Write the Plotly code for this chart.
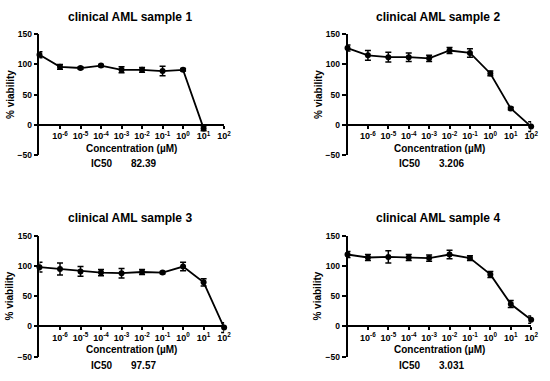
import plotly.graph_objects as go

W, H = 550, 381

conc = [1e-7, 1e-6, 1e-5, 1e-4, 1e-3, 1e-2, 1e-1, 1e0, 1e1, 1e2]

titles = ["clinical AML sample 1", "clinical AML sample 2",
          "clinical AML sample 3", "clinical AML sample 4"]
ic50_values = ["82.39", "3.206", "97.57", "3.031"]

viab_1 = [116, 96, 94, 98, 91, 91, 89, 91, -6]
err_1 = [5, 4, 2, 2, 5, 4, 8, 2, 4]
viab_2 = [127, 115, 112, 112, 110, 123, 119, 85, 27, -3]
err_2 = [5, 8, 8, 7, 5, 5, 7, 4, 2, 8]
viab_3 = [98, 95, 91, 89, 88, 90, 89, 99, 73, -2]
err_3 = [8, 10, 8, 5, 8, 4, 2, 7, 6, 8]
viab_4 = [119, 114, 115, 114, 113, 119, 113, 86, 37, 11]
err_4 = [5, 5, 10, 5, 5, 7, 4, 5, 6, 6]

series = [(viab_1, err_1), (viab_2, err_2), (viab_3, err_3), (viab_4, err_4)]

y_ticks = [-50, 0, 50, 100, 150]
x_tickvals = [1e-6, 1e-5, 1e-4, 1e-3, 1e-2, 1e-1, 1e0, 1e1, 1e2]
x_ticktext = ["10<sup>-6</sup>", "10<sup>-5</sup>", "10<sup>-4</sup>", "10<sup>-3</sup>",
              "10<sup>-2</sup>", "10<sup>-1</sup>", "10<sup>0</sup>", "10<sup>1</sup>",
              "10<sup>2</sup>"]

# panel geometry in pixels: (x_left, x_right, y_top, y_bottom)
panels = [(40, 227, 30, 154), (352, 538, 30, 154),
          (40, 227, 237, 361), (352, 538, 237, 361)]

FONT = "Liberation Sans, Arial, sans-serif"

fig = go.Figure()
layout = dict(width=W, height=H, margin=dict(l=0, r=0, t=0, b=0),
              paper_bgcolor="white", plot_bgcolor="white", showlegend=False)

annotations = []

def ann(text, px, py, size):
    annotations.append(dict(text="<b>%s</b>" % text, x=px / W, y=1 - py / H,
                            xref="paper", yref="paper", showarrow=False,
                            xanchor="center", yanchor="middle",
                            font=dict(family=FONT, size=size, color="black")))

for i, ((vals, errs), (xl, xr, yt, yb)) in enumerate(zip(series, panels)):
    n = i + 1
    xa = "xaxis" if n == 1 else "xaxis%d" % n
    ya = "yaxis" if n == 1 else "yaxis%d" % n
    xs = "x" if n == 1 else "x%d" % n
    ys = "y" if n == 1 else "y%d" % n
    ybot = 1 - yb / H
    ytop = 1 - yt / H
    zero_pos = ybot + (0 - (-50)) / 200 * (ytop - ybot)
    layout[xa] = dict(domain=[xl / W, xr / W], type="log", range=[-7, 2],
                      anchor="free", position=zero_pos,
                      tickvals=x_tickvals, ticktext=x_ticktext,
                      ticks="outside", ticklen=3, tickwidth=1.5, tickcolor="black",
                      showline=True, linecolor="black", linewidth=1.8,
                      showgrid=False, zeroline=False,
                      tickfont=dict(family=FONT, size=9, color="black", weight="bold"))
    layout[ya] = dict(domain=[ybot, ytop], range=[-50, 150], anchor=xs,
                      tickvals=y_ticks, ticks="outside", ticklen=4, tickwidth=1.5,
                      tickcolor="black", showline=True, linecolor="black", linewidth=1.8,
                      showgrid=False, zeroline=False,
                      tickfont=dict(family=FONT, size=8.5, color="black", weight="bold"))
    fig.add_trace(go.Scatter(
        x=conc[:len(vals)], y=vals, xaxis=xs, yaxis=ys, mode="lines+markers",
        line=dict(color="black", width=1.8),
        marker=dict(color="black", size=6),
        error_y=dict(type="data", array=errs, visible=True, color="black",
                     thickness=1.5, width=3),
        cliponaxis=False))

    cx = xl + 92
    ann(titles[i], cx, yt - 18, 12)
    ann("% viability", xl - 30, (yt + yb) / 2 - 0.5, 10)
    annotations[-1]["textangle"] = -90
    ann("Concentration (µM)", cx + 1, yb - 7, 10)
    ann("IC50", xl + 63, yb + 9, 10)
    ann(ic50_values[i], xl + 105, yb + 9, 10)

layout["annotations"] = annotations
fig.update_layout(**layout)
fig.write_html("out.html", config={"displayModeBar": False},
               post_script="document.body.style.margin='0';document.body.style.overflow='hidden';")
